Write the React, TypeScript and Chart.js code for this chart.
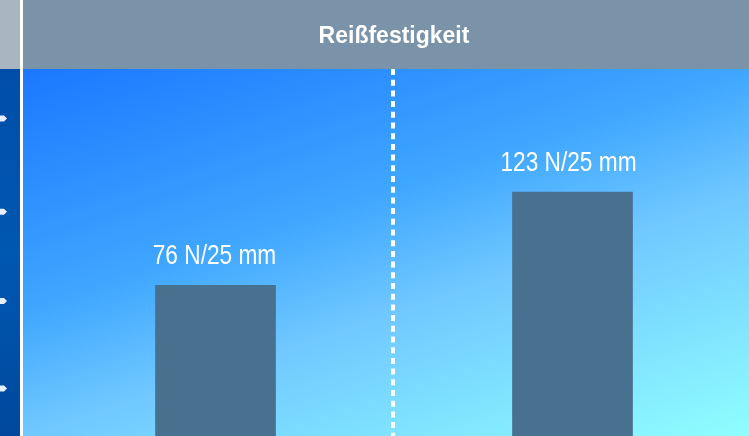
import React, { useEffect, useRef } from "react";
import { Chart, registerables } from "chart.js";

Chart.register(...registerables);

const categories = ["Längs", "Quer"];
const values = [76, 123];
const unit = "N/25 mm";
const titleText = "Reißfestigkeit";
const arrowValues = [24, 68, 113, 160];
const yMax = 185;

const decorPlugin = {
  id: "decor",
  beforeDraw(chart: any) {
    const { ctx, chartArea } = chart;
    const { top } = chartArea;
    const W = chart.width;
    const H = chart.height;
    ctx.save();
    const g = ctx.createLinearGradient(23, top, 223, top + 600);
    g.addColorStop(0, "#1a78ff");
    g.addColorStop(0.36, "#3ea6ff");
    g.addColorStop(0.55, "#70c8ff");
    g.addColorStop(0.92, "#90ffff");
    g.addColorStop(1, "#90ffff");
    ctx.fillStyle = g;
    ctx.fillRect(23, top, W - 23, H - top);
    ctx.fillStyle = "#7a93a8";
    ctx.fillRect(23, 0, W - 23, top);
    ctx.fillStyle = "#a9b5c1";
    ctx.fillRect(0, 0, 20, top);
    const sg = ctx.createLinearGradient(0, top, 0, H);
    sg.addColorStop(0, "#004ea8");
    sg.addColorStop(0.5, "#0058b0");
    sg.addColorStop(1, "#00489e");
    ctx.fillStyle = sg;
    ctx.fillRect(0, top, 20, H - top);
    ctx.fillStyle = "#ffffff";
    ctx.fillRect(20, 0, 3, H);
    const ys = chart.scales.y;
    ctx.fillStyle = "#e8f0ff";
    arrowValues.forEach((v) => {
      const y = ys.getPixelForValue(v);
      ctx.beginPath();
      ctx.moveTo(0, y - 3);
      ctx.lineTo(4, y - 3);
      ctx.lineTo(7, y);
      ctx.lineTo(4, y + 3);
      ctx.lineTo(0, y + 3);
      ctx.closePath();
      ctx.fill();
    });
    const xs = chart.scales.x;
    const xd = (xs.getPixelForValue(0) + xs.getPixelForValue(1)) / 2 - 1;
    ctx.strokeStyle = "#ffffff";
    ctx.lineWidth = 4;
    ctx.setLineDash([6, 4.7]);
    ctx.beginPath();
    ctx.moveTo(xd, top);
    ctx.lineTo(xd, H);
    ctx.stroke();
    ctx.restore();
  },
  afterDatasetsDraw(chart: any) {
    const { ctx } = chart;
    const meta = chart.getDatasetMeta(0);
    ctx.save();
    ctx.fillStyle = "#ffffff";
    ctx.font = '27px "Liberation Sans", Arial, sans-serif';
    ctx.textAlign = "center";
    ctx.textBaseline = "alphabetic";
    meta.data.forEach((bar: any, i: number) => {
      const x = bar.x - (i === 1 ? 4 : 1);
      ctx.save();
      ctx.translate(x, bar.y - 21);
      ctx.scale(0.84, 1);
      ctx.fillText(`${values[i]} ${unit}`, 0, 0);
      ctx.restore();
    });
    ctx.restore();
  },
};

export default function App() {
  const ref = useRef<HTMLCanvasElement>(null);
  useEffect(() => {
    if (!ref.current) return;
    const chart = new Chart(ref.current, {
      type: "bar",
      data: {
        labels: categories,
        datasets: [
          {
            data: values,
            backgroundColor: "#48708f",
            borderWidth: 0,
            barThickness: 120,
          },
        ],
      },
      options: {
        animation: false,
        responsive: false,
        devicePixelRatio: 1,
        layout: { padding: { left: 37, right: 0, top: 0, bottom: 0 } },
        scales: {
          x: { display: false, offset: true },
          y: { display: false, min: 0, max: yMax },
        },
        plugins: {
          legend: { display: false },
          tooltip: { enabled: false },
          title: {
            display: true,
            text: titleText,
            color: "#ffffff",
            font: { family: '"Liberation Sans", Arial, sans-serif', size: 23, weight: "bold", lineHeight: 1.2 },
            padding: { top: 23, bottom: 18.4 },
          },
        },
      },
      plugins: [decorPlugin],
    });
    return () => chart.destroy();
  }, []);
  return (
    <div style={{ position: "fixed", left: 0, top: 0, width: 749, height: 436, overflow: "hidden" }}>
      <canvas ref={ref} width={751} height={436} style={{ display: "block" }} />
    </div>
  );
}
